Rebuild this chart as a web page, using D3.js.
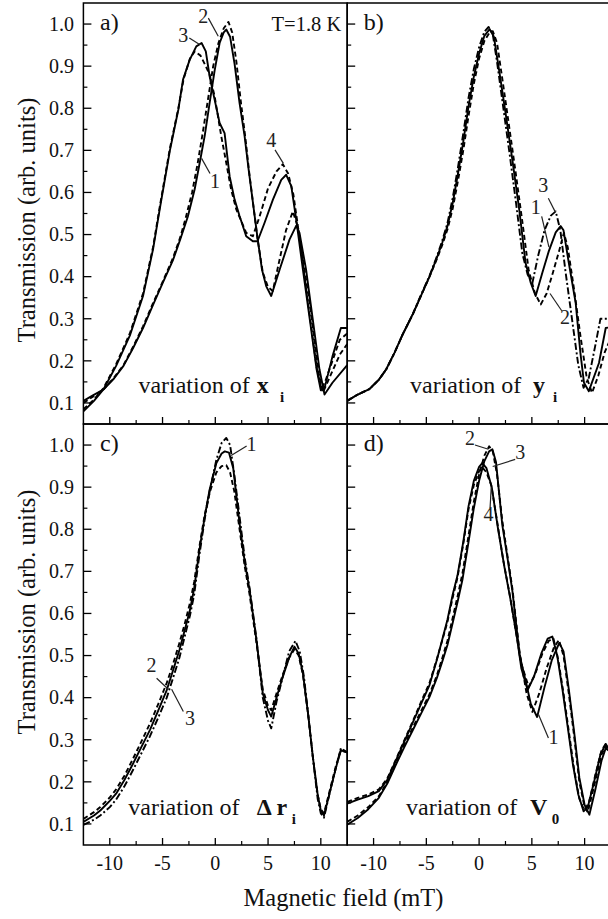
<!DOCTYPE html>
<html>
<head>
<meta charset="utf-8">
<script src="https://cdn.jsdelivr.net/npm/d3@7"></script>
<style>
  body { margin: 0; background: #fff; }
  svg { display: block; }
</style>
</head>
<body>
<div id="chart"></div>
<script>
// axis ticks
const fieldTicks = [-10, -5, 0, 5, 10];
const fieldMinor = [-7.5, -2.5, 2.5, 7.5];
const transTicks = [0.1, 0.2, 0.3, 0.4, 0.5, 0.6, 0.7, 0.8, 0.9, 1.0];
const transMinor = [0.15, 0.25, 0.35, 0.45, 0.55, 0.65, 0.75, 0.85, 0.95];

// a) variation of x_i  [field mT, transmission]
const curveA1 = [[-12.5,0.105],[-11.6,0.118],[-10.6,0.132],[-9.6,0.158],[-8.7,0.188],[-7.8,0.23],[-6.85,0.278],[-5.9,0.333],[-4.95,0.387],[-4.0,0.44],[-3.3,0.49],[-2.6,0.543],[-1.96,0.607],[-1.48,0.67],[-1.0,0.735],[-0.54,0.812],[-0.06,0.89],[0.41,0.955],[0.8,0.98],[1.04,0.987],[1.4,0.97],[1.83,0.905],[2.3,0.812],[2.78,0.733],[3.16,0.654],[3.57,0.575],[3.98,0.496],[4.42,0.417],[4.83,0.377],[5.3,0.354],[6.1,0.417],[7.03,0.488],[7.67,0.521],[7.98,0.504],[8.6,0.417],[9.24,0.298],[9.87,0.18],[10.35,0.12],[11.1,0.148],[12.5,0.19]];
const curveA2 = [[-12.5,0.1],[-11.6,0.115],[-10.6,0.132],[-9.6,0.16],[-8.7,0.19],[-7.8,0.233],[-6.85,0.282],[-5.9,0.337],[-4.95,0.39],[-4.0,0.445],[-3.3,0.495],[-2.8,0.54],[-2.2,0.6],[-1.7,0.665],[-1.2,0.74],[-0.7,0.82],[-0.2,0.9],[0.3,0.955],[0.8,0.99],[1.25,1.005],[1.6,0.98],[2.0,0.91],[2.4,0.82],[2.85,0.73],[3.2,0.65],[3.6,0.57],[4.0,0.49],[4.5,0.41],[5.0,0.375],[5.45,0.366],[6.0,0.43],[6.7,0.51],[7.35,0.555],[7.8,0.52],[8.5,0.41],[9.2,0.29],[9.8,0.17],[10.2,0.125],[11.0,0.17],[11.8,0.215],[12.5,0.24]];
const curveA3 = [[-12.5,0.08],[-11.5,0.105],[-10.6,0.132],[-9.4,0.188],[-8.1,0.26],[-6.85,0.354],[-5.9,0.465],[-5.27,0.56],[-4.3,0.7],[-3.5,0.797],[-3.06,0.868],[-2.43,0.915],[-1.8,0.947],[-1.3,0.955],[-0.9,0.935],[-0.54,0.876],[-0.06,0.82],[0.41,0.765],[0.88,0.741],[1.36,0.638],[1.83,0.583],[2.3,0.544],[2.93,0.496],[3.56,0.484],[4.0,0.484],[4.67,0.528],[5.46,0.583],[6.25,0.63],[6.72,0.642],[7.2,0.615],[7.7,0.53],[8.3,0.417],[9.0,0.29],[9.6,0.18],[10.0,0.13],[10.4,0.14],[11.1,0.21],[11.9,0.278],[12.5,0.278]];
const curveA4 = [[-12.5,0.085],[-11.5,0.108],[-10.6,0.135],[-9.4,0.192],[-8.1,0.265],[-6.85,0.36],[-5.9,0.47],[-5.27,0.565],[-4.3,0.705],[-3.5,0.8],[-3.0,0.87],[-2.4,0.918],[-1.95,0.935],[-1.4,0.925],[-0.9,0.9],[-0.54,0.88],[-0.06,0.828],[0.57,0.733],[1.04,0.67],[1.5,0.607],[2.0,0.559],[2.93,0.504],[3.56,0.496],[4.2,0.543],[5.0,0.61],[5.8,0.65],[6.4,0.667],[6.9,0.645],[7.4,0.595],[8.0,0.49],[8.4,0.41],[9.0,0.3],[9.6,0.185],[10.05,0.133],[10.4,0.15],[11.1,0.2],[11.8,0.25],[12.5,0.265]];

// b) variation of y_i
const curveB1 = [[-12.5,0.105],[-11.5,0.12],[-10.4,0.133],[-9.5,0.155],[-8.8,0.18],[-8.0,0.22],[-7.2,0.265],[-6.3,0.31],[-5.5,0.355],[-4.7,0.4],[-4.0,0.445],[-3.5,0.48],[-3.0,0.52],[-2.5,0.575],[-2.0,0.645],[-1.5,0.72],[-1.0,0.805],[-0.5,0.875],[0.0,0.93],[0.5,0.972],[1.0,0.988],[1.4,0.97],[1.9,0.89],[2.5,0.79],[3.15,0.678],[3.8,0.56],[4.4,0.433],[4.9,0.385],[5.36,0.354],[6.0,0.41],[6.6,0.46],[7.26,0.505],[7.73,0.52],[8.0,0.51],[8.5,0.433],[9.15,0.338],[9.6,0.219],[9.94,0.148],[10.4,0.128],[11.36,0.195],[12.0,0.278],[12.5,0.28]];
const curveB2 = [[-12.5,0.105],[-11.5,0.12],[-10.4,0.133],[-9.5,0.155],[-8.8,0.18],[-8.0,0.22],[-7.2,0.265],[-6.3,0.31],[-5.5,0.355],[-4.7,0.4],[-4.0,0.442],[-3.5,0.475],[-3.0,0.512],[-2.5,0.562],[-2.0,0.628],[-1.5,0.7],[-1.0,0.782],[-0.5,0.858],[0.0,0.918],[0.5,0.96],[1.0,0.98],[1.3,0.983],[1.7,0.955],[2.2,0.87],[2.8,0.765],[3.45,0.65],[4.1,0.53],[4.7,0.415],[5.3,0.36],[5.84,0.334],[6.4,0.36],[7.0,0.41],[7.57,0.46],[8.04,0.504],[8.4,0.47],[9.0,0.37],[9.6,0.26],[10.2,0.16],[10.7,0.124],[11.3,0.165],[11.9,0.22],[12.5,0.255]];
const curveB3 = [[-12.5,0.105],[-11.5,0.12],[-10.4,0.133],[-9.5,0.155],[-8.8,0.18],[-8.0,0.22],[-7.2,0.265],[-6.3,0.31],[-5.5,0.357],[-4.7,0.402],[-4.0,0.448],[-3.5,0.485],[-3.0,0.527],[-2.5,0.587],[-2.0,0.66],[-1.5,0.74],[-1.0,0.825],[-0.5,0.893],[0.0,0.945],[0.5,0.982],[0.9,0.993],[1.3,0.975],[1.7,0.91],[2.3,0.8],[2.9,0.69],[3.5,0.575],[4.1,0.455],[4.6,0.405],[5.05,0.385],[5.6,0.45],[6.2,0.51],[6.8,0.545],[7.26,0.555],[7.7,0.51],[8.2,0.41],[8.8,0.3],[9.4,0.19],[9.9,0.136],[10.4,0.16],[11.0,0.235],[11.5,0.3],[12.5,0.3]];

// c) variation of delta r_i
const curveC1 = [[-12.5,0.105],[-11.5,0.12],[-10.9,0.132],[-10.0,0.155],[-9.4,0.172],[-8.6,0.205],[-7.8,0.243],[-7.0,0.283],[-6.2,0.323],[-5.4,0.37],[-4.6,0.418],[-4.0,0.465],[-3.4,0.513],[-2.9,0.56],[-2.4,0.608],[-2.0,0.66],[-1.5,0.751],[-1.0,0.83],[-0.54,0.894],[0.1,0.957],[0.6,0.98],[0.9,0.985],[1.3,0.982],[1.7,0.945],[2.3,0.814],[2.8,0.72],[3.25,0.656],[3.9,0.537],[4.5,0.41],[5.0,0.37],[5.3,0.355],[5.8,0.4],[6.4,0.45],[7.0,0.495],[7.5,0.521],[7.9,0.505],[8.3,0.458],[8.8,0.36],[9.24,0.26],[9.7,0.17],[10.0,0.132],[10.3,0.12],[10.9,0.18],[11.45,0.235],[11.9,0.275],[12.5,0.27]];
const curveC2 = [[-12.5,0.112],[-11.5,0.128],[-10.9,0.14],[-10.0,0.163],[-9.4,0.182],[-8.6,0.215],[-7.8,0.255],[-7.0,0.296],[-6.2,0.338],[-5.4,0.385],[-4.6,0.435],[-4.0,0.48],[-3.4,0.53],[-2.9,0.575],[-2.4,0.625],[-2.0,0.675],[-1.5,0.76],[-1.0,0.835],[-0.5,0.89],[0.1,0.935],[0.6,0.95],[1.04,0.952],[1.4,0.935],[1.8,0.89],[2.3,0.8],[2.8,0.71],[3.25,0.645],[3.9,0.53],[4.5,0.42],[5.0,0.38],[5.3,0.37],[5.8,0.41],[6.4,0.455],[7.0,0.495],[7.5,0.515],[7.9,0.5],[8.3,0.455],[8.8,0.36],[9.24,0.26],[9.7,0.17],[10.0,0.135],[10.3,0.125],[10.9,0.185],[11.45,0.24],[11.9,0.275],[12.5,0.27]];
const curveC3 = [[-12.5,0.098],[-11.5,0.11],[-10.9,0.12],[-10.0,0.14],[-9.4,0.158],[-8.6,0.19],[-7.8,0.228],[-7.0,0.268],[-6.2,0.308],[-5.4,0.353],[-4.6,0.4],[-4.0,0.447],[-3.4,0.495],[-2.9,0.545],[-2.4,0.595],[-2.0,0.645],[-1.5,0.74],[-1.0,0.825],[-0.5,0.895],[0.1,0.965],[0.6,1.005],[1.04,1.017],[1.4,1.0],[1.8,0.93],[2.3,0.83],[2.8,0.73],[3.25,0.66],[3.9,0.54],[4.5,0.4],[5.0,0.345],[5.3,0.327],[5.8,0.39],[6.4,0.45],[7.0,0.51],[7.6,0.535],[8.0,0.51],[8.4,0.45],[8.8,0.36],[9.24,0.26],[9.7,0.16],[10.0,0.125],[10.3,0.115],[10.9,0.18],[11.45,0.235],[11.9,0.28],[12.5,0.27]];

// d) variation of V_0
const curveD1 = [[-12.5,0.098],[-11.5,0.114],[-10.5,0.135],[-9.5,0.162],[-8.7,0.196],[-7.9,0.24],[-7.1,0.282],[-6.3,0.322],[-5.5,0.362],[-4.7,0.402],[-4.0,0.447],[-3.5,0.485],[-3.0,0.525],[-2.5,0.578],[-2.0,0.632],[-1.58,0.68],[-1.0,0.77],[-0.5,0.85],[0.0,0.915],[0.5,0.962],[0.95,0.985],[1.26,0.99],[1.6,0.96],[2.2,0.81],[2.7,0.73],[3.15,0.654],[3.85,0.5],[4.5,0.43],[4.9,0.385],[5.5,0.354],[6.2,0.425],[6.9,0.49],[7.6,0.53],[8.0,0.51],[8.5,0.42],[9.0,0.32],[9.5,0.21],[10.0,0.145],[10.45,0.122],[11.0,0.18],[11.6,0.25],[12.0,0.28],[12.5,0.27]];
const curveD2 = [[-12.5,0.105],[-11.5,0.12],[-10.5,0.14],[-9.5,0.166],[-8.7,0.2],[-7.9,0.245],[-7.1,0.288],[-6.3,0.328],[-5.5,0.368],[-4.7,0.408],[-4.0,0.453],[-3.5,0.493],[-3.0,0.535],[-2.5,0.59],[-2.0,0.645],[-1.58,0.695],[-1.0,0.785],[-0.5,0.865],[0.0,0.93],[0.5,0.975],[0.95,0.997],[1.3,0.985],[1.7,0.93],[2.2,0.82],[2.7,0.735],[3.15,0.66],[3.85,0.505],[4.5,0.41],[5.05,0.366],[5.7,0.41],[6.4,0.47],[7.1,0.52],[7.57,0.537],[8.0,0.5],[8.5,0.41],[9.0,0.31],[9.5,0.2],[10.0,0.14],[10.3,0.128],[10.9,0.19],[11.6,0.265],[12.0,0.285],[12.5,0.275]];
const curveD3 = [[-12.5,0.148],[-11.5,0.158],[-10.5,0.166],[-9.5,0.178],[-8.7,0.205],[-7.9,0.25],[-7.1,0.295],[-6.3,0.34],[-5.5,0.385],[-4.7,0.43],[-4.0,0.49],[-3.47,0.54],[-3.0,0.585],[-2.5,0.645],[-2.05,0.69],[-1.5,0.77],[-1.0,0.855],[-0.5,0.915],[0.0,0.948],[0.3,0.957],[0.7,0.945],[1.2,0.9],[1.8,0.8],[2.4,0.71],[3.0,0.63],[3.6,0.54],[4.0,0.47],[4.6,0.418],[5.2,0.45],[5.9,0.505],[6.5,0.54],[6.94,0.545],[7.4,0.5],[7.9,0.42],[8.4,0.33],[8.9,0.24],[9.4,0.17],[9.9,0.13],[10.3,0.14],[10.9,0.2],[11.5,0.265],[12.0,0.29],[12.5,0.27]];
const curveD4 = [[-12.5,0.152],[-11.5,0.162],[-10.5,0.17],[-9.5,0.182],[-8.7,0.208],[-7.9,0.252],[-7.1,0.298],[-6.3,0.343],[-5.5,0.39],[-4.7,0.435],[-4.0,0.492],[-3.47,0.538],[-3.0,0.58],[-2.5,0.638],[-2.05,0.685],[-1.5,0.765],[-1.0,0.848],[-0.5,0.905],[0.0,0.938],[0.3,0.947],[0.7,0.935],[1.15,0.905],[1.7,0.82],[2.3,0.725],[2.9,0.645],[3.5,0.555],[4.0,0.48],[4.7,0.426],[5.3,0.455],[6.0,0.505],[6.6,0.535],[7.05,0.54],[7.5,0.49],[8.0,0.41],[8.5,0.32],[9.0,0.23],[9.5,0.16],[9.95,0.133],[10.4,0.15],[11.0,0.215],[11.6,0.275],[12.0,0.29],[12.5,0.28]];

// curve number labels: text anchor point and leader line, in data units
const notesA = [
  { t: '3', at: [-3.03, 0.957], from: [-2.46, 0.967], to: [-1.45, 0.951] },
  { t: '2', at: [-1.14, 1.002], from: [-0.66, 1.014], to: [0.28, 0.971] },
  { t: '1', at: [-0.03, 0.61], from: [-0.5, 0.645], to: [-1.3, 0.681] },
  { t: '4', at: [5.31, 0.708], from: [5.66, 0.701], to: [6.45, 0.669] }
];
const notesB = [
  { t: '3', at: [6.09, 0.601], from: [6.56, 0.586], to: [7.19, 0.555] },
  { t: '1', at: [5.37, 0.55], from: [5.93, 0.543], to: [6.62, 0.47] },
  { t: '2', at: [8.15, 0.288], from: [7.83, 0.319], to: [6.72, 0.36] }
];
const notesC = [
  { t: '1', at: [3.44, 0.986], from: [2.97, 0.998], to: [1.5, 0.975] },
  { t: '2', at: [-6.04, 0.462], from: [-5.56, 0.446], to: [-4.45, 0.42] },
  { t: '3', at: [-2.4, 0.335], from: [-3.03, 0.367], to: [-4.14, 0.42] }
];
const notesD = [
  { t: '2', at: [-0.86, 1.0], from: [-0.39, 1.0], to: [0.88, 0.99] },
  { t: '3', at: [3.9, 0.966], from: [3.42, 0.966], to: [1.29, 0.949] },
  { t: '4', at: [0.88, 0.82], from: [1.04, 0.85], to: [1.15, 0.9] },
  { t: '1', at: [7.05, 0.291], from: [6.57, 0.304], to: [5.63, 0.36] }
];

const W = 608, H = 919;
const marginLeft = 83.4, marginTop = 3, pw = 263.8, ph = 421;
const serif = "'Liberation Serif', 'DejaVu Serif', 'Times New Roman', Times, serif";
const dashes = { solid: null, dash: '5,3', dashdot: '7,2.5,2,2.5' };

const panels = [
  { tag: 'a)', col: 0, row: 0, notes: notesA, curves: [[curveA1, 'solid'], [curveA2, 'dash'], [curveA3, 'solid'], [curveA4, 'dash']],
    varText: { dx: 55, dy: -31.5, main: 'x', mainOff: 118.4, subOff: 141.7, sub: 'i' } },
  { tag: 'b)', col: 1, row: 0, notes: notesB, curves: [[curveB1, 'solid'], [curveB2, 'dash'], [curveB3, 'dashdot']],
    varText: { dx: 62.8, dy: -31.5, main: 'y', mainOff: 123, subOff: 143, sub: 'i' } },
  { tag: 'c)', col: 0, row: 1, notes: notesC, curves: [[curveC1, 'solid'], [curveC2, 'dash'], [curveC3, 'dashdot']],
    varText: { dx: 44.9, dy: -30, main: '\u0394 r', mainOff: 128.4, subOff: 163.4, sub: 'i' } },
  { tag: 'd)', col: 1, row: 1, notes: notesD, curves: [[curveD1, 'solid'], [curveD2, 'dash'], [curveD3, 'solid'], [curveD4, 'dash']],
    varText: { dx: 58.8, dy: -30, main: 'V', mainOff: 124, subOff: 145.7, sub: '0' } }
];

const svg = d3.select('#chart').append('svg')
  .attr('width', W).attr('height', H)
  .attr('font-family', serif)
  .style('font-family', serif);

const defs = svg.append('defs');

panels.forEach((p, i) => {
  const x = d3.scaleLinear().domain([-12.5, 12.5]).range([marginLeft + p.col * pw, marginLeft + (p.col + 1) * pw]);
  const y = d3.scaleLinear().domain([0.05, 1.05]).range([marginTop + (p.row + 1) * ph, marginTop + p.row * ph]);
  const x0 = x.range()[0], x1 = x.range()[1];
  const yb = y.range()[0], yt = y.range()[1];

  defs.append('clipPath').attr('id', 'clip' + i)
    .append('rect').attr('x', x0).attr('y', yt).attr('width', x1 - x0).attr('height', yb - yt);

  const g = svg.append('g');

  // curves
  const line = d3.line().x(d => x(d[0])).y(d => y(d[1]));
  const cg = g.append('g').attr('clip-path', `url(#clip${i})`);
  p.curves.forEach(([data, style]) => {
    cg.append('path')
      .attr('d', line(data))
      .attr('fill', 'none')
      .attr('stroke', '#000')
      .attr('stroke-width', 1.9)
      .attr('stroke-linejoin', 'round')
      .attr('stroke-dasharray', dashes[style]);
  });

  // frame
  g.append('rect')
    .attr('x', x0).attr('y', yt).attr('width', x1 - x0).attr('height', yb - yt)
    .attr('fill', 'none').attr('stroke', '#000').attr('stroke-width', 1.5);

  // x ticks (inward)
  g.selectAll('.xt').data(fieldTicks).join('line')
    .attr('x1', d => x(d)).attr('x2', d => x(d))
    .attr('y1', yb).attr('y2', yb - 7)
    .attr('stroke', '#000').attr('stroke-width', 1.3);
  g.selectAll('.xm').data(fieldMinor).join('line')
    .attr('x1', d => x(d)).attr('x2', d => x(d))
    .attr('y1', yb).attr('y2', yb - 4)
    .attr('stroke', '#000').attr('stroke-width', 1.2);

  // y ticks (inward)
  g.selectAll('.yt').data(transTicks).join('line')
    .attr('x1', x0).attr('x2', x0 + 8)
    .attr('y1', d => y(d)).attr('y2', d => y(d))
    .attr('stroke', '#000').attr('stroke-width', 1.3);
  g.selectAll('.ym').data(transMinor).join('line')
    .attr('x1', x0).attr('x2', x0 + 4)
    .attr('y1', d => y(d)).attr('y2', d => y(d))
    .attr('stroke', '#000').attr('stroke-width', 1.2);

  if (p.col === 0) {
    g.selectAll('.yl').data(transTicks).join('text')
      .attr('x', x0 - 9.5).attr('y', d => y(d) + 6.8)
      .attr('text-anchor', 'end')
      .attr('font-size', 20)
      .attr('fill', '#111')
      .text(d => d.toFixed(1));
  }
  if (p.row === 1) {
    g.selectAll('.xl').data(fieldTicks).join('text')
      .attr('x', d => x(d)).attr('y', yb + 25)
      .attr('text-anchor', 'middle')
      .attr('font-size', 20)
      .attr('fill', '#111')
      .text(d => d);
  }

  // panel tag
  g.append('text')
    .attr('x', x0 + 16.6).attr('y', yt + 27)
    .attr('font-size', 24)
    .attr('fill', '#111')
    .text(p.tag);

  // "variation of ..." caption
  const v = p.varText;
  const tx = x0 + v.dx, ty = yb + v.dy;
  const vt = g.append('text').attr('x', tx).attr('y', ty).attr('font-size', 24).attr('fill', '#111');
  vt.append('tspan').text('variation of');
  vt.append('tspan').attr('x', tx + v.mainOff).attr('font-weight', 'bold').text(v.main);
  vt.append('tspan').attr('x', tx + v.subOff).attr('dy', 9)
    .attr('font-weight', 'bold').attr('font-size', 15).text(v.sub);

  // curve number labels
  p.notes.forEach(n => {
    g.append('line')
      .attr('x1', x(n.from[0])).attr('y1', y(n.from[1]))
      .attr('x2', x(n.to[0])).attr('y2', y(n.to[1]))
      .attr('stroke', '#222').attr('stroke-width', 1.2);
    g.append('text')
      .attr('x', x(n.at[0])).attr('y', y(n.at[1]))
      .attr('text-anchor', 'middle')
      .attr('font-size', 20)
      .attr('fill', '#222')
      .text(n.t);
  });

  if (i === 0) {
    g.append('text')
      .attr('x', x1 - 6).attr('y', yt + 28)
      .attr('text-anchor', 'end')
      .attr('font-size', 20.5)
      .attr('fill', '#111')
      .text('T=1.8 K');
  }
});

// axis titles
[220, 612].forEach(cy => {
  svg.append('text')
    .attr('transform', `translate(35,${cy}) rotate(-90)`)
    .attr('text-anchor', 'middle')
    .attr('font-size', 24.5)
    .attr('fill', '#111')
    .text('Transmission (arb. units)');
});

svg.append('text')
  .attr('x', 343.5).attr('y', 906)
  .attr('text-anchor', 'middle')
  .attr('font-size', 24.5)
  .attr('fill', '#111')
  .text('Magnetic field (mT)');
</script>
</body>
</html>
